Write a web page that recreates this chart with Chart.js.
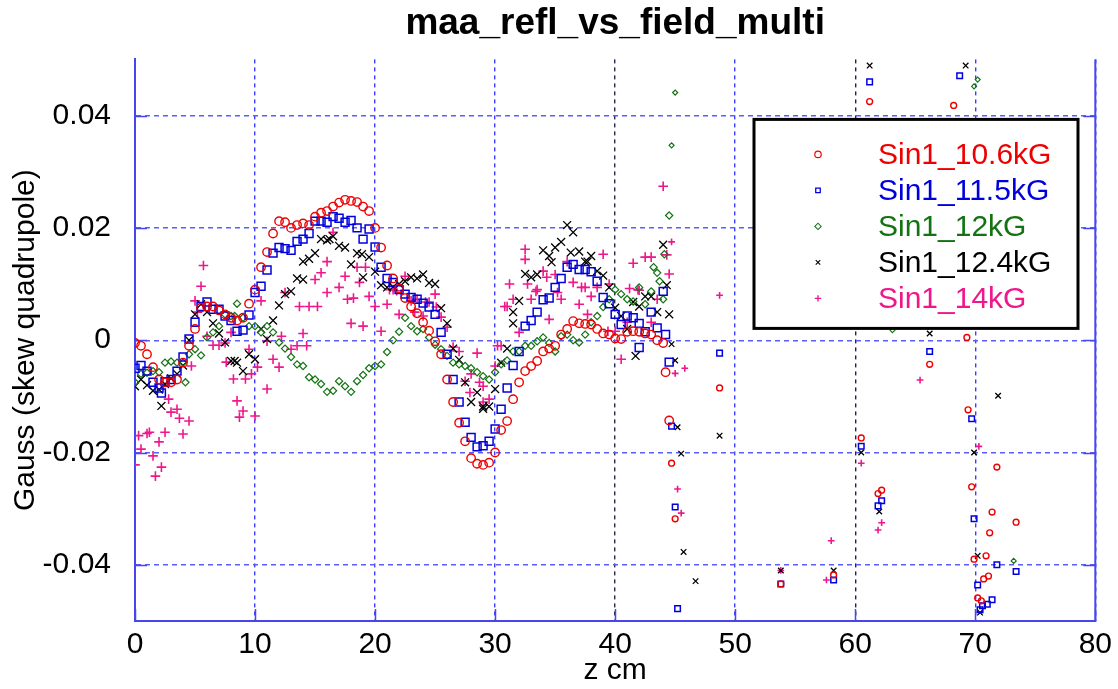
<!DOCTYPE html>
<html>
<head>
<meta charset="utf-8">
<title>maa_refl_vs_field_multi</title>
<script src="https://cdn.jsdelivr.net/npm/chart.js@4.4.1/dist/chart.umd.min.js"></script>
<style>
	html, body { margin: 0; padding: 0; background: #fff; }
	#wrap { width: 1118px; height: 689px; }
</style>
</head>
<body>
<div id="wrap"><canvas id="myChart" width="1118" height="689"></canvas></div>
<script>
// regular scan positions (cm), shared by all field settings
const zGrid = [
	0, 0.5, 1, 1.5, 2, 2.5, 3, 3.5, 4, 4.5, 5, 5.5, 6, 6.5, 7, 7.5, 8, 8.5, 9, 9.5,
	10, 10.5, 11, 11.5, 12, 12.5, 13, 13.5, 14, 14.5, 15, 15.5, 16, 16.5, 17, 17.5, 18, 18.5, 19, 19.5,
	20, 20.5, 21, 21.5, 22, 22.5, 23, 23.5, 24, 24.5, 25, 25.5, 26, 26.5, 27, 27.5, 28, 28.5, 29, 29.5,
	30, 30.5, 31, 31.5, 32, 32.5, 33, 33.5, 34, 34.5, 35, 35.5, 36, 36.5, 37, 37.5, 38, 38.5, 39, 39.5,
	40, 40.5, 41, 41.5, 42, 42.5, 43, 43.5
];

// Sin1_10.6kG
const sin106Y = [
	-0.0005, -0.001, -0.0025, -0.0048, -0.007, -0.0075, -0.0075, -0.007, -0.004, -0.001,
	0.002, 0.0058, 0.006, 0.006, 0.0053, 0.0046, 0.004, 0.0035, 0.004, 0.0065,
	0.009, 0.013, 0.0157, 0.019, 0.0212, 0.021, 0.02, 0.0205, 0.0208, 0.0205,
	0.022, 0.0227, 0.023, 0.0238, 0.0245, 0.025, 0.0248, 0.0246, 0.0238, 0.023,
	0.02, 0.0165, 0.0133, 0.011, 0.0092, 0.0075, 0.006, 0.0048, 0.0032, 0.0017,
	-0.0002, -0.0025, -0.007, -0.011, -0.0147, -0.018, -0.021, -0.022, -0.0222, -0.0218,
	-0.02, -0.016, -0.0144, -0.0105, -0.0075, -0.0055, -0.0046, -0.0037, -0.002, -0.0015,
	-0.001, 0.001, 0.002, 0.0034, 0.003, 0.0029, 0.0028, 0.002, 0.0012, 0.001,
	0.0003, 0.0002, 0.0015, 0.0016, 0.0015, 0.0012, 0.001, 0.0
];
const sin106ExtraZ = [44.0, 44.2, 44.5, 44.7, 45.0, 48.7, 53.8, 58.2, 60.5, 61.2, 61.9, 62.2, 66.2, 68.2, 69.3, 69.4, 69.7, 69.9, 70.2, 70.5, 70.7, 70.9, 71.1, 71.2, 71.4, 71.8, 73.4];
const sin106ExtraY = [-0.0005, -0.0057, -0.0143, -0.0219, -0.0318, -0.0085, -0.0434, -0.0418, -0.0174, 0.0425, -0.0273, -0.0267, -0.0043, 0.0418, 0.0005, -0.0124, -0.0261, -0.039, -0.0459, -0.0464, -0.0425, -0.0384, -0.042, -0.0343, -0.0306, -0.0226, -0.0324];

// Sin1_11.5kG
const sin115Y = [
	-0.005, -0.0045, -0.0055, -0.0075, -0.0085, -0.0074, -0.007, -0.0055, -0.003, 0.0002,
	0.0032, 0.006, 0.0068, 0.0055, 0.0055, 0.0043, 0.0035, 0.0016, 0.0018, 0.0045,
	0.0085, 0.0096, 0.0125, 0.0155, 0.0165, 0.0163, 0.016, 0.0176, 0.018, 0.019,
	0.0212, 0.0212, 0.021, 0.022, 0.0217, 0.021, 0.0213, 0.02, 0.018, 0.0198,
	0.0166, 0.013, 0.011, 0.0103, 0.009, 0.0082, 0.0076, 0.0073, 0.0066, 0.0059,
	0.0046, 0.0014, -0.0025, -0.007, -0.011, -0.0146, -0.0173, -0.019, -0.0188, -0.018,
	-0.0158, -0.0123, -0.0085, -0.0045, -0.002, 0.0025, 0.0035, 0.005, 0.0072, 0.0075,
	0.0094, 0.011, 0.013, 0.0135, 0.0126, 0.0126, 0.0122, 0.0105, 0.0076, 0.0065,
	0.0046, 0.0028, 0.0043, 0.004, 0.003, 0.0015, 0.005, 0.0022
];
const sin115ExtraZ = [2.2, 42.0, 44.0, 44.2, 44.5, 44.7, 45.0, 45.2, 48.7, 53.8, 58.2, 60.5, 61.2, 61.9, 62.2, 66.2, 68.7, 69.7, 69.9, 70.2, 70.4, 70.6, 71.0, 71.4, 71.8, 73.4];
const sin115ExtraY = [-0.0094, -0.0013, 0.0087, 0.001, -0.0039, -0.0153, -0.0297, -0.0478, -0.0023, -0.0434, -0.0427, -0.0189, 0.046, -0.0295, -0.0286, -0.002, 0.0471, -0.014, -0.0318, -0.0436, -0.048, -0.0473, -0.047, -0.0462, -0.04, -0.0412];

// Sin1_12kG
const sin12Y = [
	-0.0075, -0.006, -0.0058, -0.0055, -0.0057, -0.004, -0.0038, -0.004, -0.004, -0.0025,
	-0.0016, -0.0027, 0.0005, 0.0014, 0.0025, 0.0046, 0.0043, 0.0065, 0.004, 0.0025,
	0.0025, 0.0014, 0.0025, 0.0014, -0.0004, -0.0015, -0.003, -0.0043, -0.0046, -0.0066,
	-0.007, -0.0078, -0.0092, -0.009, -0.0073, -0.0082, -0.0092, -0.0073, -0.0062, -0.005,
	-0.0046, -0.0043, -0.0021, 0.0, 0.0015, 0.004, 0.0025, 0.0016, 0.002, 0.0005,
	-0.0008, -0.0016, -0.0028, -0.004, -0.0043, -0.0046, -0.005, -0.0057, -0.0064, -0.007,
	-0.0057, -0.0043, -0.0036, -0.002, -0.002, -0.001, -0.001, -0.0002, 0.0005, -0.0005,
	-0.002, 0.0007, 0.001, 0.0, -0.0004, 0.001, 0.0032, 0.0043, 0.0059, 0.0073,
	0.009, 0.0082, 0.0073, 0.0069, 0.0094, 0.0064, 0.0087, 0.012
];
const sin12ExtraZ = [4.2, 8.3, 43.2, 43.7, 44.0, 44.1, 44.5, 44.7, 45.0, 63.1, 69.9, 70.2, 73.2];
const sin12ExtraY = [-0.0075, 0.0043, 0.013, 0.0105, 0.0073, 0.0153, 0.0222, 0.0347, 0.0441, 0.0018, 0.0452, 0.0464, -0.0393];

// Sin1_12.4kG
const sin124Y = [
	-0.0082, -0.007, -0.008, -0.009, -0.0088, -0.0078, -0.0068, -0.006, -0.0045, 0.0,
	0.0046, 0.0064, 0.005, 0.003, 0.0012, -0.0004, -0.0037, -0.004, -0.0055, -0.0025,
	-0.0034, 0.002, 0.0002, 0.0035, 0.0062, 0.0082, 0.0087, 0.011, 0.0108, 0.0145,
	0.0155, 0.018, 0.0178, 0.0185, 0.0168, 0.0165, 0.0135, 0.0155, 0.0112, 0.0148,
	0.0122, 0.0098, 0.0094, 0.0095, 0.01, 0.0105, 0.0112, 0.011, 0.0117, 0.0102,
	0.01, 0.0057, 0.003, -0.0015, -0.0035, -0.0075, -0.011, -0.0093, -0.0118, -0.0118,
	-0.0087, -0.004, -0.0015, 0.005, 0.007, 0.0118, 0.0112, 0.0117, 0.016, 0.015,
	0.0165, 0.0175, 0.0205, 0.0192, 0.0158, 0.014, 0.015, 0.0123, 0.0115, 0.0094,
	0.0058, 0.0043, 0.002, 0.0068, 0.006, 0.0078, 0.0078, 0.005
];
const sin124ExtraZ = [2.2, 8.3, 14.0, 16.2, 18.9, 29.0, 31.5, 34.7, 36.3, 37.7, 41.7, 44.0, 44.3, 44.5, 44.7, 45.0, 45.2, 45.5, 45.7, 46.7, 48.7, 53.8, 58.2, 60.5, 61.2, 62.0, 66.2, 69.2, 69.9, 70.2, 70.4, 71.9];
const sin124ExtraY = [-0.0117, -0.0037, 0.014, 0.018, 0.0153, -0.0122, 0.003, 0.0139, 0.0156, 0.014, -0.0028, 0.017, 0.0098, 0.0046, -0.0007, -0.0036, -0.0155, -0.0202, -0.0377, -0.0429, -0.017, -0.041, -0.041, -0.02, 0.0489, -0.0305, 0.0012, 0.0489, -0.02, -0.0384, -0.0485, -0.0099];

// Sin1_14kG
const sin14Y = [
	-0.0222, -0.0194, -0.0166, -0.0206, -0.0181, -0.0164, -0.0128, -0.0123, -0.0167, -0.0144,
	0.007, 0.0096, 0.0007, -0.0009, -0.0009, -0.0005, 0.0014, -0.0108, -0.0126, -0.0016,
	-0.0135, 0.007, -0.0002, -0.0034, -0.0048, 0.0085, -0.0016, -0.001, 0.0012, 0.006,
	0.0108, 0.012, 0.014, 0.0192, 0.0094, 0.0114, 0.003, 0.013, 0.0025, 0.0078,
	0.006, 0.0016, 0.0064, 0.009, 0.0046, 0.0114, 0.007, 0.0073, 0.0043, 0.0068,
	0.0082, 0.0041, 0.0023, -0.0012, -0.002, -0.0073, -0.006, -0.0023, -0.0082, -0.0105,
	-0.0046, -0.001, 0.006, 0.0073, 0.0014, 0.0162, 0.0073, 0.009, 0.0123, 0.0037,
	0.0117, 0.0073, 0.014, 0.0103, 0.0064, 0.0094, 0.0078, 0.0094, 0.0153, 0.01,
	0.0016, -0.0034, 0.0032, 0.0137, 0.0089, 0.0148, 0.0032, 0.0073
];
const sin14ExtraZ = [0.3, 1.2, 1.7, 2.2, 2.8, 3.7, 4.7, 5.2, 5.7, 7.6, 8.2, 8.7, 9.2, 9.7, 10.2, 11.0, 12.2, 13.7, 14.3, 15.2, 16.0, 17.7, 18.2, 18.7, 19.2, 21.2, 21.8, 23.3, 24.2, 25.1, 27.9, 28.7, 29.0, 30.2, 30.8, 31.2, 32.5, 32.7, 33.4, 34.3, 35.2, 37.2, 37.7, 39.4, 41.2, 41.9, 43.0, 44.0, 44.3, 44.5, 44.7, 45.0, 45.2, 45.5, 45.8, 48.7, 53.8, 57.6, 58.0, 60.5, 61.9, 62.2, 65.4, 70.3];
const sin14ExtraY = [-0.017, -0.0164, -0.0242, -0.0226, -0.0105, -0.0139, -0.0046, 0.005, 0.0133, -0.0039, -0.0069, -0.0137, -0.0069, -0.006, -0.0048, -0.0087, 0.0007, 0.006, -0.001, 0.006, 0.0085, 0.0073, 0.0075, 0.0103, 0.013, 0.009, 0.0088, 0.005, 0.0068, 0.0059, -0.0093, -0.0075, -0.011, -0.001, 0.006, 0.01, 0.0144, 0.01, 0.0087, 0.0112, 0.0085, 0.0094, 0.0046, 0.0016, 0.0092, 0.009, 0.0148, 0.0274, 0.0152, 0.0118, 0.0175, -0.0059, -0.0265, -0.0308, -0.005, 0.008, -0.041, -0.0427, -0.0357, -0.0219, -0.0338, -0.0325, -0.0071, -0.0189];

const yTicks = [-0.04, -0.02, 0, 0.02, 0.04];
const yTickLabels = ['-0.04', '-0.02', '0', '0.02', '0.04'];

const FONT = "'Liberation Sans', Arial, Helvetica, sans-serif";
Chart.defaults.font.family = FONT;
Chart.defaults.color = '#000';

function toPoints(ys, extraZ, extraY) {
	return zGrid.map((z, i) => ({ x: z, y: ys[i] }))
		.concat(extraZ.map((z, i) => ({ x: z, y: extraY[i] })));
}

// markers on the far side of the magnet were plotted a bit smaller
const sized = (r) => (ctx) => (ctx.raw && ctx.raw.x > 44.6 ? r * 0.7 : r);

function makeSet(label, ys, ez, ey, color, style, r, lw) {
	return {
		label: label,
		data: toPoints(ys, ez, ey),
		showLine: false,
		pointStyle: style,
		pointRadius: sized(r),
		pointHoverRadius: sized(r),
		pointBorderColor: color,
		pointBackgroundColor: 'rgba(0,0,0,0)',
		pointBorderWidth: lw,
		borderColor: color,
		backgroundColor: 'rgba(0,0,0,0)'
	};
}

const datasets = [
	makeSet('Sin1_10.6kG', sin106Y, sin106ExtraZ, sin106ExtraY, '#ee0000', 'circle', 4.2, 1.4),
	makeSet('Sin1_11.5kG', sin115Y, sin115ExtraZ, sin115ExtraY, '#0000dd', 'rect', 5.6, 1.5),
	makeSet('Sin1_12kG', sin12Y, sin12ExtraZ, sin12ExtraY, '#137313', 'rectRot', 3.6, 1.2),
	makeSet('Sin1_12.4kG', sin124Y, sin124ExtraZ, sin124ExtraY, '#000000', 'crossRot', 5.6, 1.3),
	makeSet('Sin1_14kG', sin14Y, sin14ExtraZ, sin14ExtraY, '#f0168c', 'cross', 4.8, 1.6)
];

const AXIS_BLUE = '#4646f0';

// right frame edge plus the short solid ticks inside the frame
const frameTicks = {
	id: 'frameTicks',
	beforeDatasetsDraw(chart) {
		const { ctx, chartArea: a, scales } = chart;
		ctx.save();
		ctx.strokeStyle = AXIS_BLUE;
		ctx.lineWidth = 1.5;
		ctx.beginPath();
		yTicks.forEach((v) => {
			const y = Math.round(scales.y.getPixelForValue(v)) + 0.5;
			ctx.moveTo(a.left, y);
			ctx.lineTo(a.left + 12, y);
			ctx.moveTo(a.right - 12, y);
			ctx.lineTo(a.right, y);
		});
		scales.x.ticks.forEach((t) => {
			const x = Math.round(scales.x.getPixelForValue(t.value)) + 0.5;
			ctx.moveTo(x, a.bottom);
			ctx.lineTo(x, a.bottom - 12);
		});
		ctx.stroke();
		ctx.lineWidth = 2;
		ctx.beginPath();
		ctx.moveTo(a.right, a.top);
		ctx.lineTo(a.right, a.bottom);
		ctx.stroke();
		ctx.restore();
	}
};

// boxed legend in the upper right of the plot
const boxLegend = {
	id: 'boxLegend',
	afterDraw(chart) {
		const { ctx, chartArea: a } = chart;
		const left = a.left + 619, top = a.top + 60, w = 324, h = 209;
		ctx.save();
		ctx.fillStyle = '#fff';
		ctx.fillRect(left, top, w, h);
		ctx.strokeStyle = '#000';
		ctx.lineWidth = 3;
		ctx.strokeRect(left, top, w, h);
		ctx.font = '30px ' + FONT;
		ctx.textBaseline = 'middle';
		ctx.textAlign = 'left';
		chart.data.datasets.forEach((ds, i) => {
			const y = top + 35 + i * 36;
			ctx.strokeStyle = ds.pointBorderColor;
			ctx.fillStyle = 'rgba(0,0,0,0)';
			ctx.lineWidth = ds.pointBorderWidth * 0.85;
			Chart.helpers.drawPoint(ctx, { pointStyle: ds.pointStyle, radius: 3.2, rotation: 0, borderWidth: ds.pointBorderWidth }, left + 64, y);
			ctx.fillStyle = ds.pointBorderColor;
			ctx.fillText(ds.label, left + 124, y + 1);
		});
		ctx.restore();
	}
};

new Chart(document.getElementById('myChart'), {
	type: 'scatter',
	data: { datasets: datasets },
	options: {
		responsive: false,
		animation: false,
		devicePixelRatio: 1,
		layout: { padding: { left: 0, right: 22, top: 0, bottom: 0 } },
		plugins: {
			legend: { display: false },
			tooltip: { enabled: false },
			title: {
				display: true,
				fullSize: false,
				text: 'maa_refl_vs_field_multi',
				font: { size: 37, weight: 'bold', family: FONT },
				color: '#000',
				padding: { top: 2, bottom: 13 }
			}
		},
		scales: {
			x: {
				type: 'linear',
				min: 0,
				max: 80,
				afterFit: (s) => { s.height = 68; },
				ticks: {
					stepSize: 10,
					padding: 6,
					font: { size: 30 },
					color: '#000',
					maxRotation: 0,
					callback: (v) => String(v)
				},
				grid: {
					drawTicks: false,
					lineWidth: 1.4,
					color: (c) => (c.tick && (c.tick.value === 40 || c.tick.value === 60) ? '#24244c' : '#3c3cff')
				},
				border: { display: true, color: AXIS_BLUE, width: 2, dash: [4, 4] },
				title: {
					display: true,
					text: 'z cm',
					font: { size: 30 },
					color: '#000',
					padding: { top: 0, bottom: 0 }
				}
			},
			y: {
				type: 'linear',
				min: -0.05,
				max: 0.05,
				afterFit: (s) => { s.width = 135; },
				afterBuildTicks: (s) => { s.ticks = yTicks.map((v) => ({ value: v })); },
				ticks: {
					padding: 24,
					font: { size: 30 },
					color: '#000',
					callback: (v) => yTickLabels[yTicks.indexOf(v)] ?? String(v)
				},
				grid: { drawTicks: false, lineWidth: 1.4, color: '#5c5cff' },
				border: { display: true, color: AXIS_BLUE, width: 2, dash: [5, 4] },
				title: {
					display: true,
					text: 'Gauss (skew quadrupole)',
					font: { size: 30 },
					color: '#000',
					padding: { top: 8, bottom: 0 }
				}
			}
		}
	},
	plugins: [frameTicks, boxLegend]
});
</script>
</body>
</html>
